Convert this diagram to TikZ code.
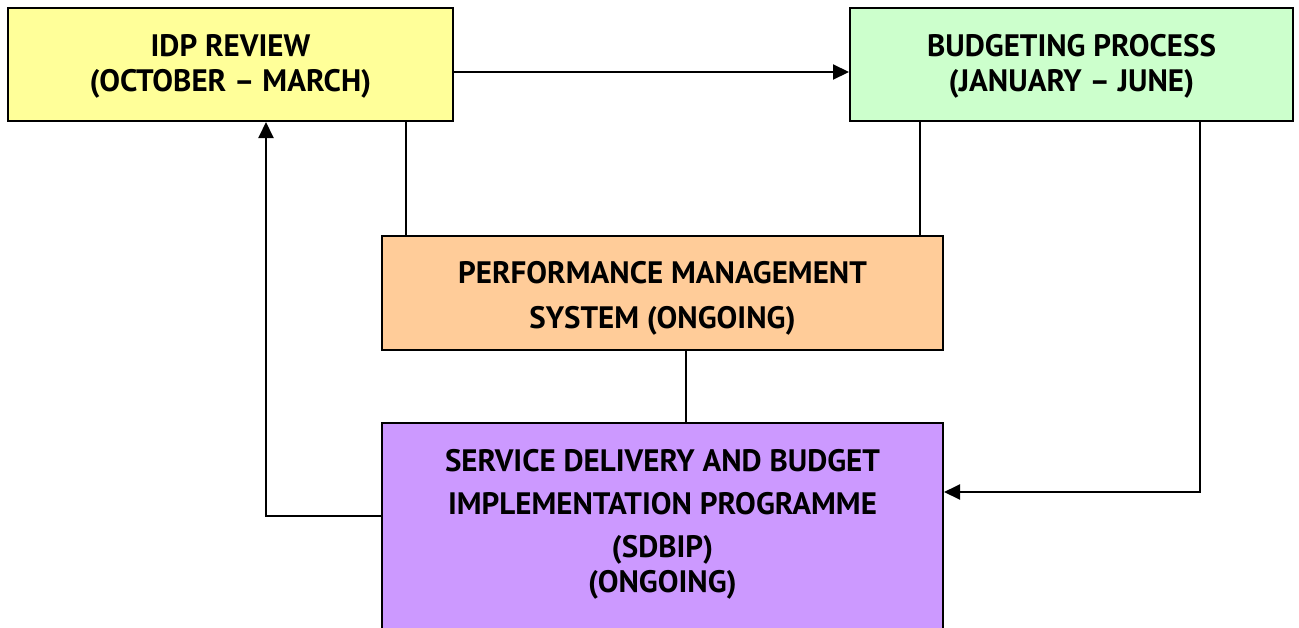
\documentclass[tikz,border=0pt]{standalone}
\usepackage{fontspec}
\setmainfont{PT Sans}
\usetikzlibrary{positioning,arrows.meta}

\definecolor{idpyellow}{HTML}{FFFF99}
\definecolor{budgetgreen}{HTML}{CCFFCC}
\definecolor{pmsorange}{HTML}{FFCC99}
\definecolor{sdbippurple}{HTML}{CC99FF}

\begin{document}
\begin{tikzpicture}[x=0.5pt, y=-0.5pt,
			box/.style={rectangle, draw=black, line width=1pt, inner sep=0pt, align=center,
				font=\bfseries\fontsize{15.5}{17.5}\selectfont},
			label/.style={rectangle, align=center, font=\bfseries\fontsize{15.5}{17.5}\selectfont},
			link/.style={line width=1pt},
			arr/.style={line width=1pt, -{Triangle[length=8pt,width=7.5pt]}}]
			\useasboundingbox (0,0) rectangle (1299,627);
			\clip (0,0) rectangle (1299,627);
			\node[box, fill=idpyellow, minimum width=222.5pt, minimum height=56.5pt] (idp) at (230.5,64.5)
				{\rule{0pt}{13pt}IDP REVIEW\\(OCTOBER -- MARCH)};
			\node[box, fill=budgetgreen, minimum width=221.5pt, minimum height=56.5pt] (budget) at (1071.5,64.5)
				{\rule{0pt}{13pt}BUDGETING PROCESS\\(JANUARY -- JUNE)};
			\node[box, fill=pmsorange, minimum width=280.5pt, minimum height=57pt] (pms) at (662.5,293)
				{\rule{0pt}{16pt}PERFORMANCE MANAGEMENT\\[5pt]SYSTEM (ONGOING)};
			\node[box, fill=sdbippurple, minimum width=280.5pt, minimum height=120pt, anchor=north] (sdbip) at (662.5,422) {};
			\node[label] (sdbiptext) at (662.5,524)
				{SERVICE DELIVERY AND BUDGET\\[4pt]IMPLEMENTATION PROGRAMME\\[4pt](SDBIP)\\(ONGOING)};
			% plain links into the PMS box
			\draw[link] ([xshift=87.75pt]idp.south) -- ([xshift=87.75pt]idp.south |- pms.north);
			\draw[link] ([xshift=-75.75pt]budget.south) -- ([xshift=-75.75pt]budget.south |- pms.north);
			\draw[link] ([xshift=11.75pt]pms.south) -- ([xshift=11.75pt]pms.south |- sdbip.north);
			% the cycle
			\draw[arr] ([yshift=-3.75pt]idp.east) -- ([yshift=-3.75pt]idp.east -| budget.west);
			\draw[arr] ([xshift=64.25pt]budget.south) |- ([yshift=-35pt]sdbip.north east);
			\draw[arr] ([yshift=-47pt]sdbip.north west) -| ([xshift=17.75pt]idp.south);
		\end{tikzpicture}
\end{document}
